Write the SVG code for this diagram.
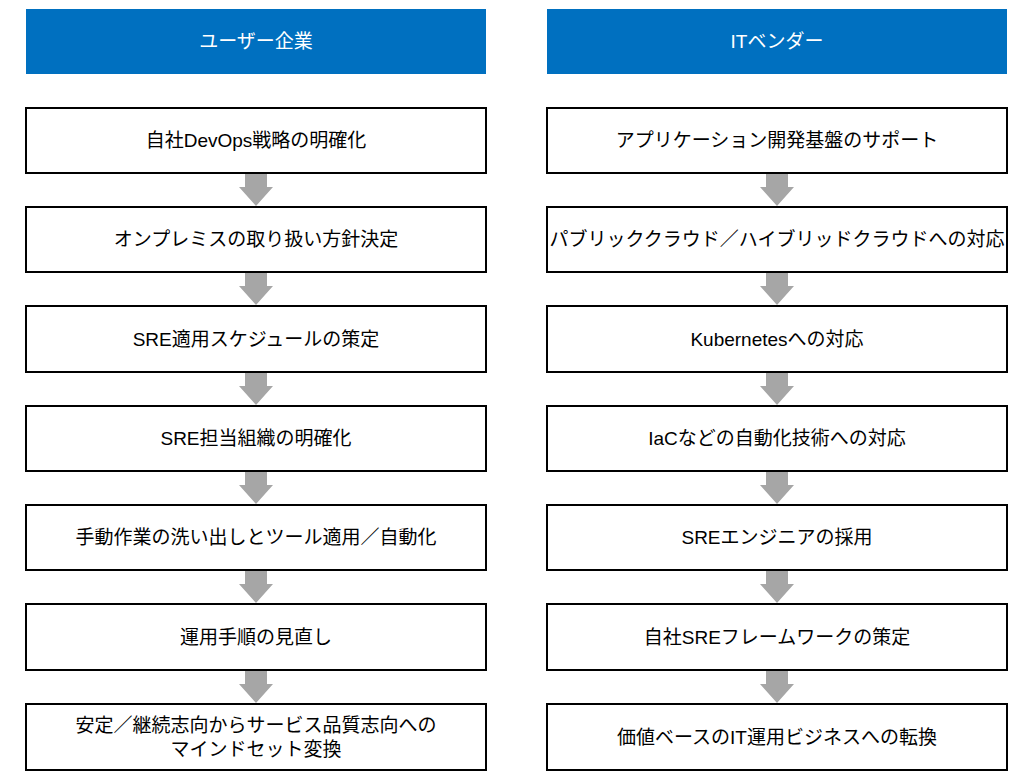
<svg xmlns="http://www.w3.org/2000/svg" width="1030" height="784" viewBox="0 0 1030 784">
<style>
.h{fill:#0070C0}
.ht{fill:#fff;font-family:"Liberation Sans","Noto Sans CJK JP",sans-serif;font-size:19px;text-anchor:middle}
.b{fill:#fff;stroke:#000;stroke-width:2}
.t{fill:#000;font-family:"Liberation Sans","Noto Sans CJK JP",sans-serif;font-size:19px;text-anchor:middle}
.a{fill:#A6A6A6}
</style>
<defs><path id="ar" d="M-11,0 H11 V13 H17 L0,32 L-17,13 H-11 Z"/></defs>
<rect width="1030" height="784" fill="#fff"/>
<g id="hL"><rect class="h" x="26" y="9" width="460" height="65"/><text class="ht" x="256" y="48">ユーザー企業</text></g>
<g id="hR"><rect class="h" x="547" y="9" width="460" height="65"/><text class="ht" x="777" y="48">ITベンダー</text></g>
<g id="L1"><rect class="b" x="26" y="108" width="460" height="65"/><text class="t" x="256" y="147">自社DevOps戦略の明確化</text></g>
<g id="L2"><rect class="b" x="26" y="207" width="460" height="65"/><text class="t" x="256" y="246">オンプレミスの取り扱い方針決定</text></g>
<g id="L3"><rect class="b" x="26" y="306" width="460" height="66"/><text class="t" x="256" y="346">SRE適用スケジュールの策定</text></g>
<g id="L4"><rect class="b" x="26" y="406" width="460" height="65"/><text class="t" x="256" y="445">SRE担当組織の明確化</text></g>
<g id="L5"><rect class="b" x="26" y="505" width="460" height="65"/><text class="t" x="256" y="544">手動作業の洗い出しとツール適用／自動化</text></g>
<g id="L6"><rect class="b" x="26" y="604" width="460" height="66"/><text class="t" x="256" y="644">運用手順の見直し</text></g>
<g id="L7"><rect class="b" x="26" y="704" width="460" height="66"/><text class="t" x="256" y="732">安定／継続志向からサービス品質志向への</text><text class="t" x="256" y="756">マインドセット変換</text></g>
<g id="R1"><rect class="b" x="547" y="108" width="460" height="65"/><text class="t" x="777" y="147">アプリケーション開発基盤のサポート</text></g>
<g id="R2"><rect class="b" x="547" y="207" width="460" height="65"/><text class="t" x="777" y="246">パブリッククラウド／ハイブリッドクラウドへの対応</text></g>
<g id="R3"><rect class="b" x="547" y="306" width="460" height="66"/><text class="t" x="777" y="346">Kubernetesへの対応</text></g>
<g id="R4"><rect class="b" x="547" y="406" width="460" height="65"/><text class="t" x="777" y="445">IaCなどの自動化技術への対応</text></g>
<g id="R5"><rect class="b" x="547" y="505" width="460" height="65"/><text class="t" x="777" y="544">SREエンジニアの採用</text></g>
<g id="R6"><rect class="b" x="547" y="604" width="460" height="66"/><text class="t" x="777" y="644">自社SREフレームワークの策定</text></g>
<g id="R7"><rect class="b" x="547" y="704" width="460" height="66"/><text class="t" x="777" y="744">価値ベースのIT運用ビジネスへの転換</text></g>
<g id="connectors" class="a">
<use href="#ar" x="256" y="174"/><use href="#ar" x="256" y="273"/><use href="#ar" x="256" y="373"/><use href="#ar" x="256" y="472"/><use href="#ar" x="256" y="571"/><use href="#ar" x="256" y="671"/>
<use href="#ar" x="777" y="174"/><use href="#ar" x="777" y="273"/><use href="#ar" x="777" y="373"/><use href="#ar" x="777" y="472"/><use href="#ar" x="777" y="571"/><use href="#ar" x="777" y="671"/>
</g>
</svg>
